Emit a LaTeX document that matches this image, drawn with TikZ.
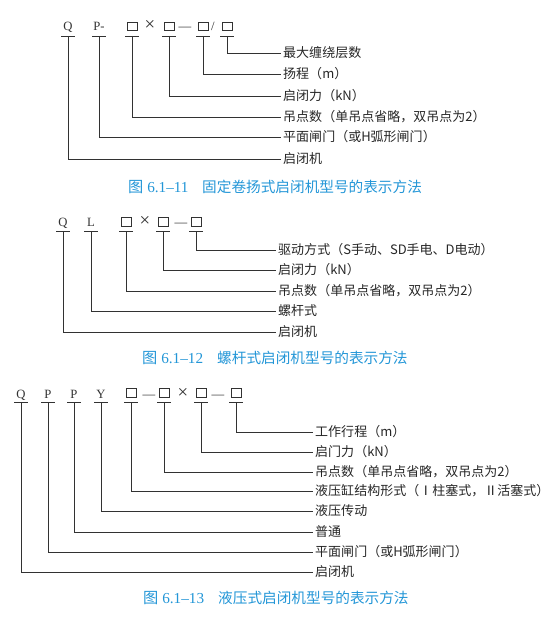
\documentclass[tikz,border=0pt]{standalone}
\usepackage{fontspec}
\setmainfont{Liberation Serif}
\newfontfamily\cjk{Noto Sans CJK SC}
\usetikzlibrary{positioning}
\definecolor{leadgray}{RGB}{50,50,50}
\definecolor{capblue}{RGB}{35,150,215}
\newcommand{\bigtimes}{{\fontsize{16}{16}\selectfont\texttimes}}
\tikzset{
  codetxt/.style={anchor=base,inner sep=0pt,text=leadgray,
                  font=\fontsize{10.8}{12}\selectfont},
  codebox/.style={draw=leadgray,line width=0.5pt,inner sep=0pt,
                  minimum width=8.5pt,minimum height=7.2pt},
  lead/.style={draw=leadgray,line width=0.6pt,shorten >=2pt},
  itemlbl/.style={anchor=west,inner sep=0pt,text=black!85,
                  text height=9.9pt,text depth=1.5pt,
                  font=\cjk\fontsize{11.1}{12}\selectfont},
  figcap/.style={anchor=west,inner sep=0pt,text=capblue,
                 font=\fontsize{13}{14}\selectfont},
}

\begin{document}
\begin{tikzpicture}[x=0.03cm,y=-0.03cm]
  \useasboundingbox (0,0) rectangle (558,619);

  % ---- 6.1-11
  \foreach \n/\x/\t in {q/68/Q, p/99/P-, x/150/\bigtimes, d/185/---, s/213/{/}}
    \node[codetxt] (a\n) at (\x,31) {\t};
  \foreach \n/\x in {1/132,2/169,3/203,4/227}
    \node[codebox] (ab\n) at (\x,26.4) {};
  \foreach \i/\x/\y/\t in {1/68/159/启闭机,
                           2/99/137/{平面闸门（或H弧形闸门）},
                           3/132/117/{吊点数（单吊点省略，双吊点为2）},
                           4/169/96/启闭力（kN）,
                           5/203/74/扬程（m）,
                           6/227/53/最大缠绕层数} {
    \draw[leadgray,line width=0.6pt] (\x-7,36) -- (\x+7,36);
    \coordinate (au\i) at (\x,36);
    \node[itemlbl] (al\i) at (283,\y) {\t};
    \draw[lead] (au\i) |- (al\i.west);
  }
  \node[figcap] (cap1) at (128,187) {{\cjk 图} 6.1–11};
  \node[figcap,font=\cjk\fontsize{12.5}{14}\selectfont] (cap1t) at (202,187)
    {固定卷扬式启闭机型号的表示方法};

  % ---- 6.1-12
  \foreach \n/\x/\t in {q/63/Q, l/91/L, x/145/\bigtimes, d/181/---}
    \node[codetxt] (b\n) at (\x,226) {\t};
  \foreach \n/\x in {1/126,2/163,3/196}
    \node[codebox] (bb\n) at (\x,221.7) {};
  \foreach \i/\x/\y/\t in {1/63/332/启闭机,
                           2/91/311/螺杆式,
                           3/126/291/{吊点数（单吊点省略，双吊点为2）},
                           4/163/270/启闭力（kN）,
                           5/196/250/{驱动方式（S手动、SD手电、D电动）}} {
    \draw[leadgray,line width=0.6pt] (\x-7,231) -- (\x+7,231);
    \coordinate (bu\i) at (\x,231);
    \node[itemlbl] (bl\i) at (278,\y) {\t};
    \draw[lead] (bu\i) |- (bl\i.west);
  }
  \node[figcap] (cap2) at (142,358) {{\cjk 图} 6.1–12};
  \node[figcap,font=\cjk\fontsize{12.5}{14}\selectfont] (cap2t) at (217,358)
    {螺杆式启闭机型号的表示方法};

  % ---- 6.1-13
  \foreach \n/\x/\t in {q/21/Q, p/48/P, pp/74/P, y/101/Y, d/149/---,
                        x/183/\bigtimes, dd/218/---}
    \node[codetxt] (c\n) at (\x,398) {\t};
  \foreach \n/\x in {1/131,2/164,3/201,4/236}
    \node[codebox] (cb\n) at (\x,393) {};
  \foreach \i/\x/\y/\t in {1/21/572/启闭机,
                           2/48/552/{平面闸门（或H弧形闸门）},
                           3/74/532/普通,
                           4/101/511/液压传动,
                           5/131/491/{液压缸结构形式（Ⅰ柱塞式，Ⅱ活塞式）},
                           6/164/472/{吊点数（单吊点省略，双吊点为2）},
                           7/201/452/启门力（kN）,
                           8/236/432/工作行程（m）} {
    \draw[leadgray,line width=0.6pt] (\x-7,402) -- (\x+7,402);
    \coordinate (cu\i) at (\x,402);
    \node[itemlbl] (cl\i) at (315,\y) {\t};
    \draw[lead] (cu\i) |- (cl\i.west);
  }
  \node[figcap] (cap3) at (143,598) {{\cjk 图} 6.1–13};
  \node[figcap,font=\cjk\fontsize{12.5}{14}\selectfont] (cap3t) at (218,598)
    {液压式启闭机型号的表示方法};
\end{tikzpicture}
\end{document}
